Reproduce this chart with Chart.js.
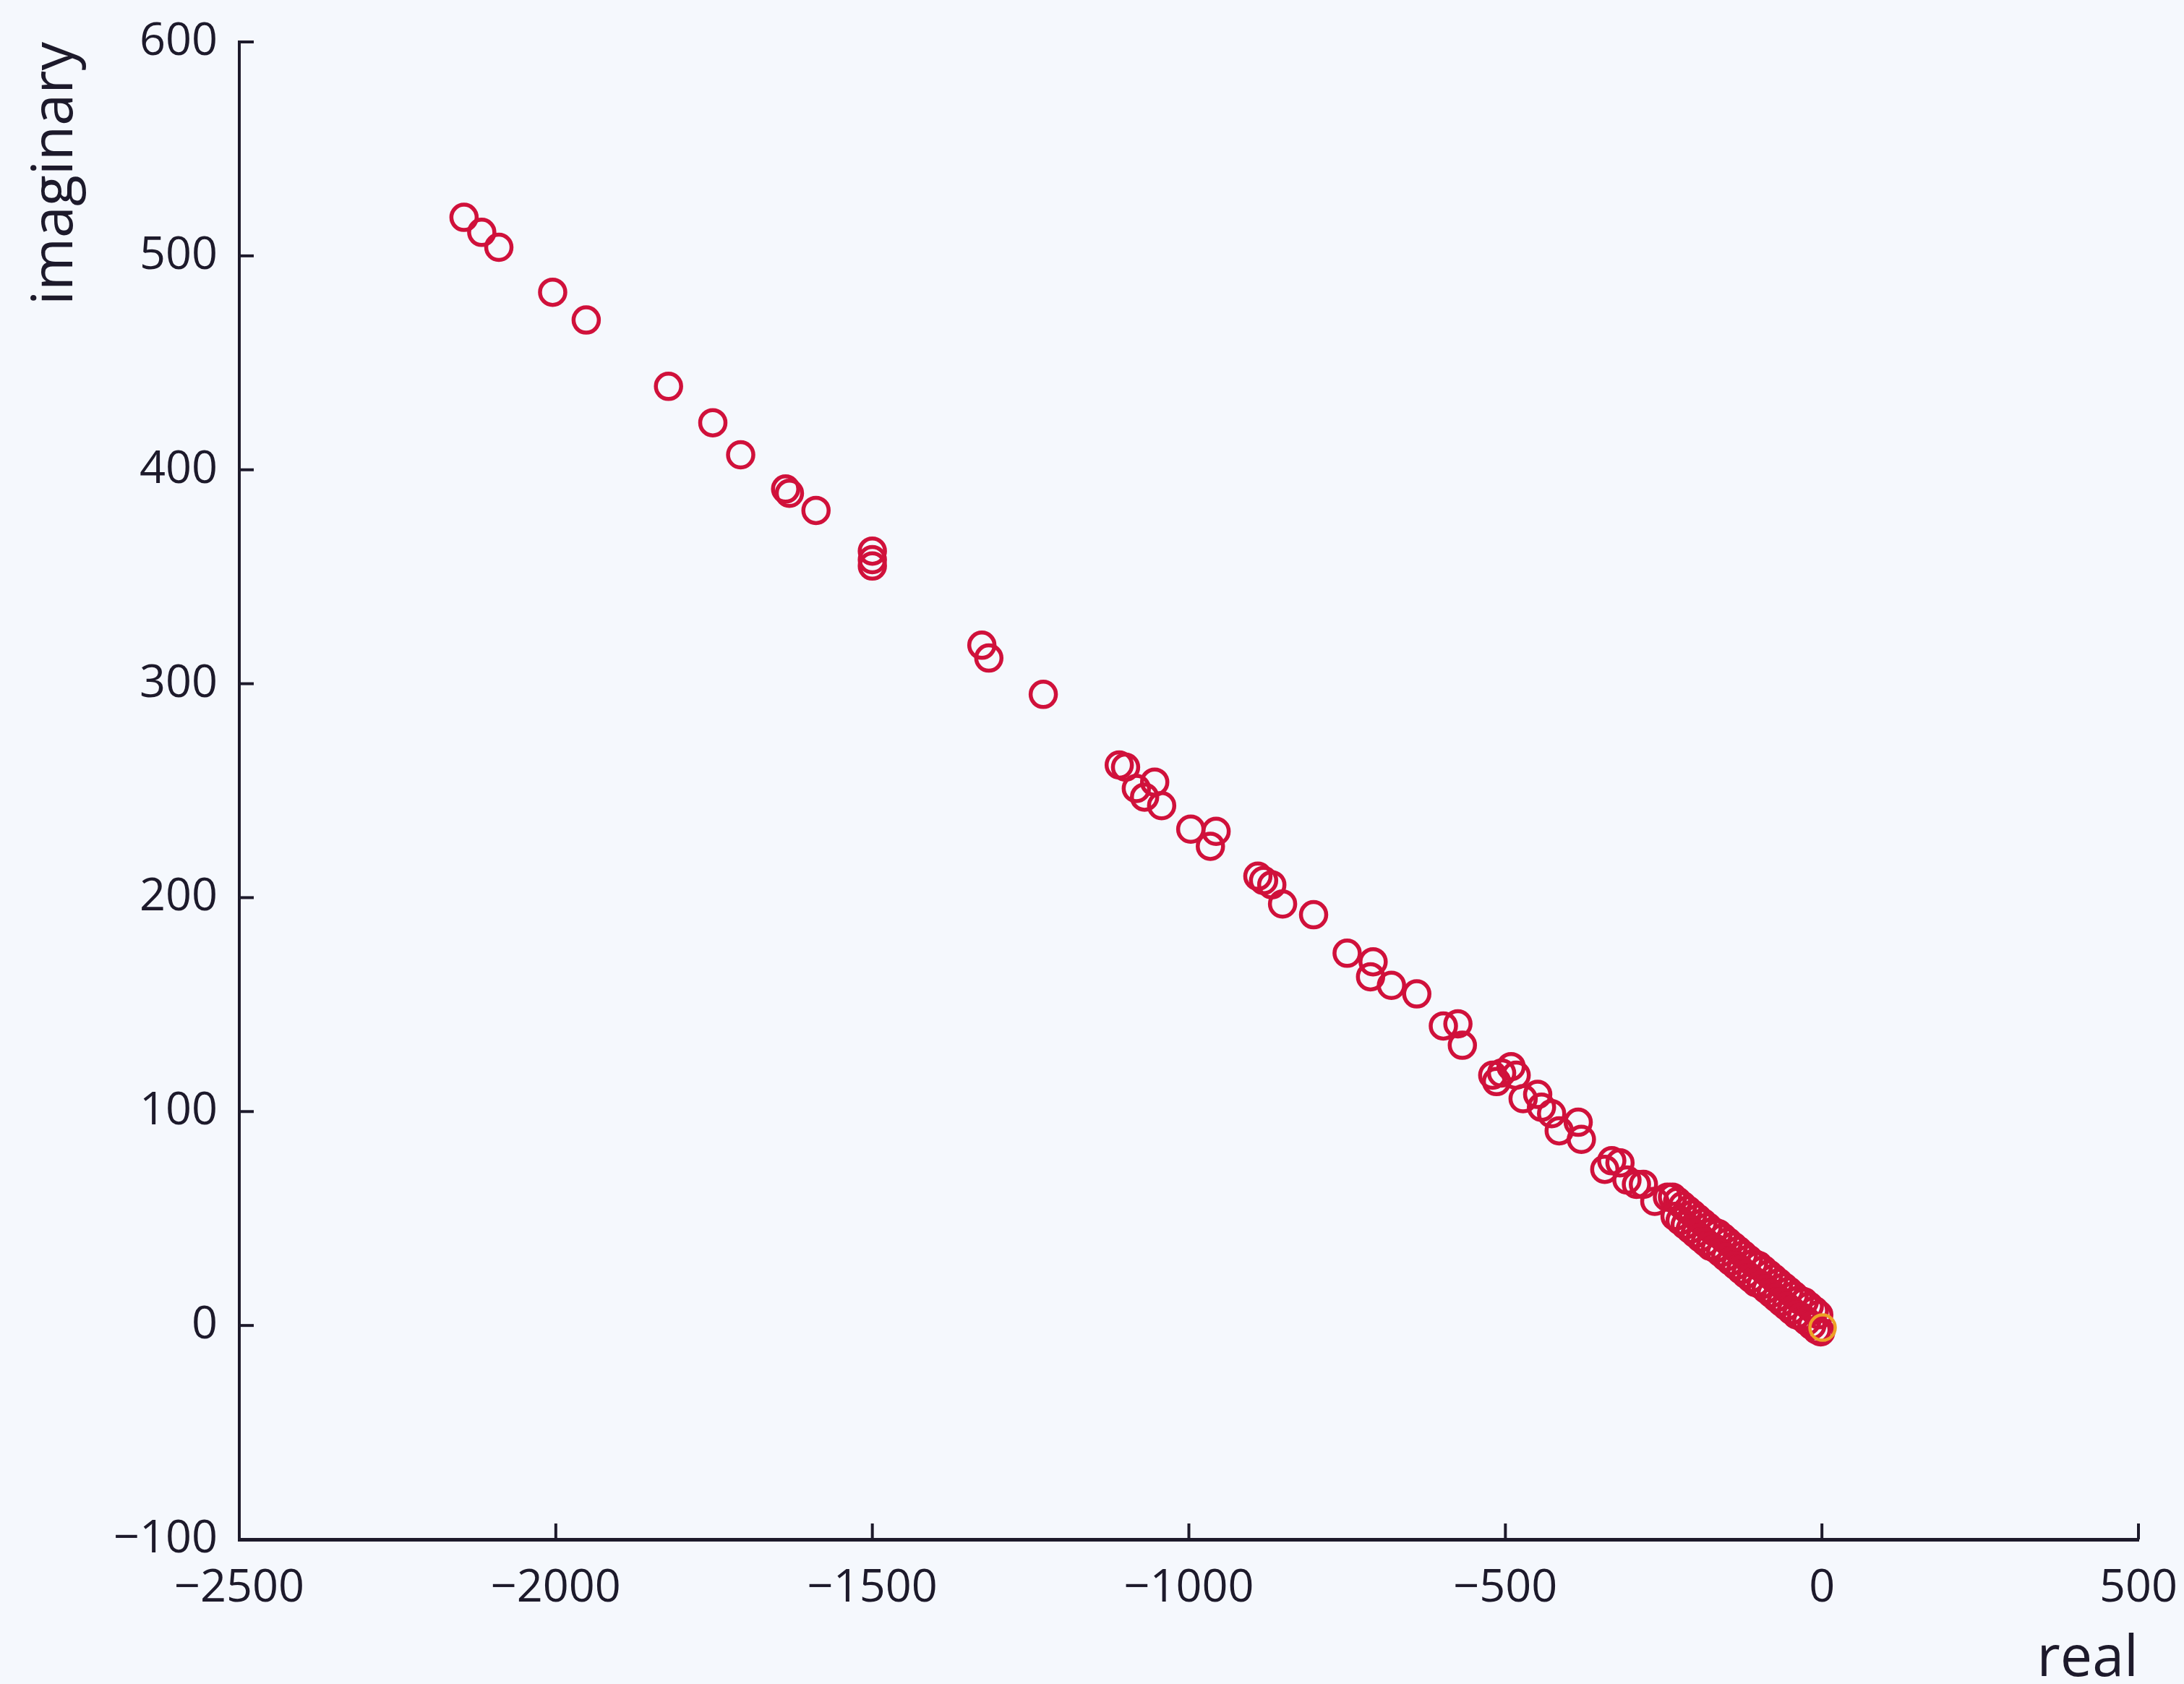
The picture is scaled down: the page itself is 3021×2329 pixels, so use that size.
<!DOCTYPE html>
<html>
<head>
<meta charset="utf-8">
<title>real vs imaginary</title>
<script src="https://cdn.jsdelivr.net/npm/chart.js@4.4.1/dist/chart.umd.min.js"></script>
<style>
    html, body {
        margin: 0;
        padding: 0;
        background: #f5f8fd;
    }
    #chart-box {
        width: 3021px;
        height: 2329px;
    }
</style>
</head>
<body>
<div id="chart-box">
    <canvas id="roots-chart" width="3021" height="2329"></canvas>
</div>
<script>
// 数据：实部 / 虚部
const realValues = [
    -2145, -2117, -2090, -2005, -1952, -1822, -1752, -1708, -1637, -1631,
    -1589, -1500, -1500, -1500, -1327, -1316, -1230, -1110, -1100, -1083,
    -1070, -1054, -1043, -997, -966, -957, -891, -882, -869, -852,
    -803, -750, -709, -713, -680, -640, -598, -575, -568, -520,
    -514, -506, -491, -483, -472, -449, -443, -427, -415, -385,
    -380, -343, -332, -319, -308, -293, -282, -264, -244,
    // 靠近原点的密集区（上沿）
    -236, -228, -220, -212, -204, -196, -188, -180, -172, -164,
    -156, -148, -140, -132, -124, -116, -108, -100, -92, -84,
    -76, -68, -60, -52, -44, -36, -28, -20, -12, -5,
    // 密集区（下沿）
    -232, -224, -216, -208, -200, -192, -184, -176, -168, -160,
    -152, -144, -136, -128, -120, -112, -104, -96, -88, -80,
    -72, -64, -56, -48, -40, -32, -24, -16, -8, -2
];
const imagValues = [
    518, 511, 504, 483, 470, 439, 422, 407, 391, 389,
    381, 362, 358, 355, 318, 312, 295, 262, 261, 251,
    247, 254, 243, 232, 224, 231, 210, 208, 206, 197,
    192, 174, 170, 163, 159, 155, 140, 141, 131, 117,
    114, 118, 121, 117, 106, 108, 102, 99, 91, 95,
    87, 73, 77, 76, 68, 66, 66, 58, 60,
    60, 58, 56, 54, 52, 50, 48, 46, 44, 43,
    41, 39, 37, 35, 33, 31, 29, 28, 26, 24,
    22, 20, 18, 16, 14, 12, 11, 9, 7, 5,
    51, 49, 47, 45, 43, 41, 39, 37, 36, 34,
    32, 30, 28, 26, 24, 22, 20, 19, 17, 15,
    13, 11, 9, 7, 5, 4, 2, 0, -2, -3
];

// 原点处单独标出的点
const markedReal = [1];
const markedImag = [-1];

const xTickValues = [-2500, -2000, -1500, -1000, -500, 0, 500];
const yTickValues = [-100, 0, 100, 200, 300, 400, 500, 600];

const inkColor = '#1d1a2b';
const fontFamily = '"Open Sans", "Noto Sans", sans-serif';

function toPoints(xs, ys) {
    return xs.map((x, i) => ({ x, y: ys[i] }));
}

function minusLabel(value) {
    // 负号用长横线
    return value < 0 ? '\u2212' + Math.abs(value) : String(value);
}

// 刻度线朝内画
const inwardTicks = {
    id: 'inwardTicks',
    afterDraw(chart) {
        const { ctx, chartArea, scales } = chart;
        ctx.save();
        ctx.strokeStyle = inkColor;
        ctx.lineWidth = 4;
        xTickValues.forEach(v => {
            const px = scales.x.getPixelForValue(v);
            ctx.beginPath();
            ctx.moveTo(px, chartArea.bottom);
            ctx.lineTo(px, chartArea.bottom - 22);
            ctx.stroke();
        });
        yTickValues.forEach(v => {
            const py = scales.y.getPixelForValue(v);
            ctx.beginPath();
            ctx.moveTo(chartArea.left, py);
            ctx.lineTo(chartArea.left + 20, py);
            ctx.stroke();
        });
        ctx.restore();
    }
};

const ctx = document.getElementById('roots-chart').getContext('2d');

new Chart(ctx, {
    type: 'scatter',
    data: {
        datasets: [
            {
                label: 'roots',
                data: toPoints(realValues, imagValues),
                borderColor: '#d0113b',
                backgroundColor: 'rgba(0,0,0,0)',
                pointRadius: 17.5,
                pointBorderWidth: 5.5,
                pointHoverRadius: 17.5,
                order: 1
            },
            {
                label: 'marked',
                data: toPoints(markedReal, markedImag),
                borderColor: '#eea125',
                backgroundColor: 'rgba(0,0,0,0)',
                pointRadius: 17.5,
                pointBorderWidth: 4.5,
                pointHoverRadius: 17.5,
                order: 0
            }
        ]
    },
    options: {
        responsive: false,
        animation: false,
        devicePixelRatio: 1,
        layout: {
            autoPadding: false,
            padding: { left: 0, right: 63, top: 58, bottom: 0 }
        },
        plugins: {
            legend: { display: false },
            tooltip: { enabled: false }
        },
        scales: {
            x: {
                type: 'linear',
                position: 'bottom',
                min: -2500,
                max: 500,
                afterFit: (scale) => {
                    scale.height = 200;
                    // 不让标签撑大边距
                    scale.paddingLeft = 0;
                    scale.paddingRight = 0;
                },
                afterBuildTicks: (scale) => {
                    scale.ticks = xTickValues.map(v => ({ value: v }));
                },
                ticks: {
                    color: inkColor,
                    padding: 30,
                    maxRotation: 0,
                    autoSkip: false,
                    font: { family: fontFamily, size: 63 },
                    callback: (v) => minusLabel(v)
                },
                grid: {
                    display: false,
                    drawTicks: false
                },
                border: {
                    display: true,
                    color: inkColor,
                    width: 5
                },
                title: {
                    display: true,
                    text: 'real',
                    align: 'end',
                    color: inkColor,
                    padding: { top: 0, bottom: -14 },
                    font: { family: fontFamily, size: 79 }
                }
            },
            y: {
                type: 'linear',
                position: 'left',
                min: -100,
                max: 600,
                afterFit: (scale) => {
                    scale.width = 331;
                    scale.paddingTop = 0;
                    scale.paddingBottom = 0;
                },
                afterBuildTicks: (scale) => {
                    scale.ticks = yTickValues.map(v => ({ value: v }));
                },
                ticks: {
                    color: inkColor,
                    padding: 30,
                    autoSkip: false,
                    font: { family: fontFamily, size: 63 },
                    callback: (v) => minusLabel(v)
                },
                grid: {
                    display: false,
                    drawTicks: false
                },
                border: {
                    display: true,
                    color: inkColor,
                    width: 4
                },
                title: {
                    display: true,
                    text: 'imaginary',
                    align: 'end',
                    color: inkColor,
                    padding: { top: 30, bottom: 0 },
                    font: { family: fontFamily, size: 79 }
                }
            }
        }
    },
    plugins: [inwardTicks]
});
</script>
</body>
</html>
